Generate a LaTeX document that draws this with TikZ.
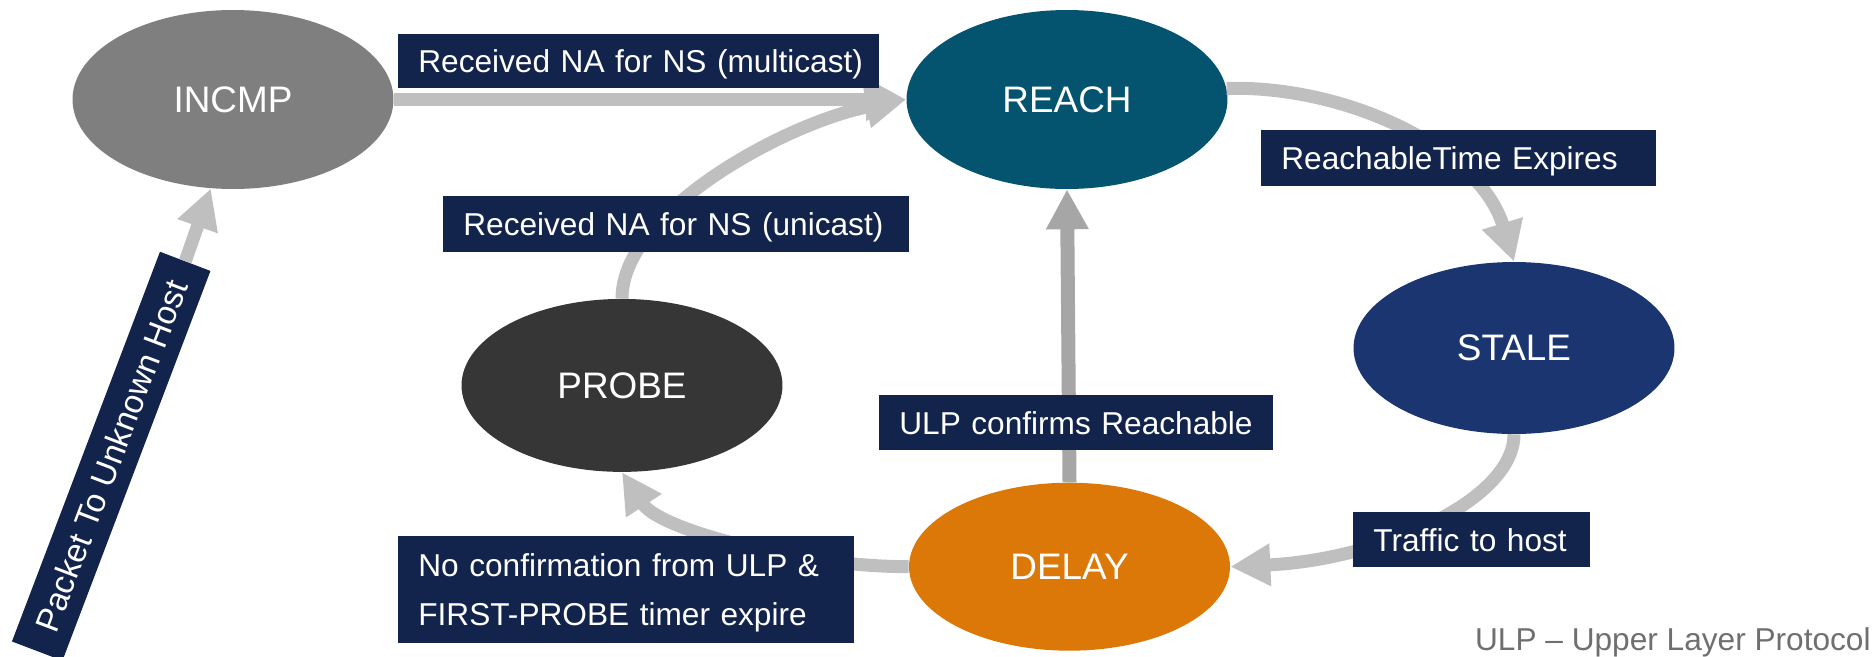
\documentclass[tikz,border=0pt]{standalone}
\usepackage{fontspec}
\setmainfont{Liberation Sans}
\usetikzlibrary{arrows.meta,shapes.geometric}

\definecolor{incmpgray}{HTML}{7F7F7F}
\definecolor{reachteal}{HTML}{04536F}
\definecolor{stalenavy}{HTML}{1B3570}
\definecolor{probedark}{HTML}{363636}
\definecolor{delayorange}{HTML}{DC7807}
\definecolor{tagnavy}{HTML}{12234C}
\definecolor{flowgray}{HTML}{BFBFBF}
\definecolor{confirmgray}{HTML}{A6A6A6}
\definecolor{notegray}{HTML}{6F6F6F}

\begin{document}
\begin{tikzpicture}[x=0.02cm, y=-0.02cm,
  state/.style={ellipse, minimum width=6.42cm, inner sep=0pt, text=white,
    font=\fontsize{21}{25}\selectfont},
  tag/.style={fill=tagnavy, text=white, font=\fontsize{18}{22}\selectfont,
    anchor=north west, inner xsep=0.4cm, inner ysep=0pt, align=left,
    text height=12.9pt, text depth=0pt},
  flow/.style={draw=flowgray, color=flowgray, line width=0.26cm,
    -{Triangle[width=0.8cm,length=0.8cm]}},
  confirm/.style={flow, draw=confirmgray, color=confirmgray, line width=0.28cm}
]
\useasboundingbox (0,0) rectangle (1876,656);

% neighbour cache states
\node[state, fill=incmpgray,   minimum height=3.58cm] (incmp) at (233,99.5)    {INCMP};
\node[state, fill=reachteal,   minimum height=3.58cm] (reach) at (1067,99.5)   {REACH};
\node[state, fill=stalenavy,   minimum height=3.44cm] (stale) at (1514,348)    {STALE};
\node[state, fill=probedark,   minimum height=3.46cm] (probe) at (622,385.4)   {PROBE};
\node[state, fill=delayorange, minimum height=3.36cm] (delay) at (1069.5,566.7) {DELAY};

% entry event, written along its own arrow
\node[fill=tagnavy, text=white, font=\fontsize{19}{23}\selectfont, inner sep=0pt,
  minimum width=8.34cm, minimum height=1.08cm, text height=13.6pt, text depth=0pt,
  rotate=69.2] (pkt) at (111.2,456.2) {Packet To Unknown Host};

% transitions
\draw[flow] (pkt.east) -- (incmp.-104);
\draw[flow] (incmp.east) -- (reach.west);
\draw[flow] (probe.north) .. controls +(0,-89) and +(-116,22) .. (reach.west);
\draw[flow] (reach.4) .. controls +(122,-3) and +(-34,-112) .. (stale.north);
\draw[flow] (stale.south) .. controls +(0,66) and +(150,-7) .. (delay.east);
\draw[confirm] (delay.north) -- (reach.south);
\draw[flow] (delay.west) .. controls +(-109,0) and +(38,58) .. (probe.south);

% transition events
\node[tag, text width=8.82cm, minimum height=1.08cm] (multi) at (398,34)
  {\mbox{Received NA for NS (multicast)}};
\node[tag, text width=8.52cm, minimum height=1.12cm] (uni) at (443,196)
  {\mbox{Received NA for NS (unicast)}};
\node[tag, text width=7.10cm, minimum height=1.12cm] (expire) at (1261,130)
  {\mbox{ReachableTime Expires}};
\node[tag, text width=7.08cm, minimum height=1.10cm] (ulp) at (879,395)
  {\mbox{ULP confirms Reachable}};
\node[tag, text width=3.94cm, minimum height=1.10cm] (traffic) at (1353,512)
  {\mbox{Traffic to host}};
\node[tag, text width=8.32cm, minimum height=2.14cm, text depth=27.9pt,
  font=\fontsize{18}{27.9}\selectfont] (noconf) at (398,536)
  {No confirmation from ULP \&\\FIRST-PROBE timer expire};

% legend
\node[anchor=base east, inner sep=0pt, text=notegray,
  font=\fontsize{18}{22}\selectfont] (legend) at (1871,650)
  {ULP – Upper Layer Protocol};
\end{tikzpicture}
\end{document}
